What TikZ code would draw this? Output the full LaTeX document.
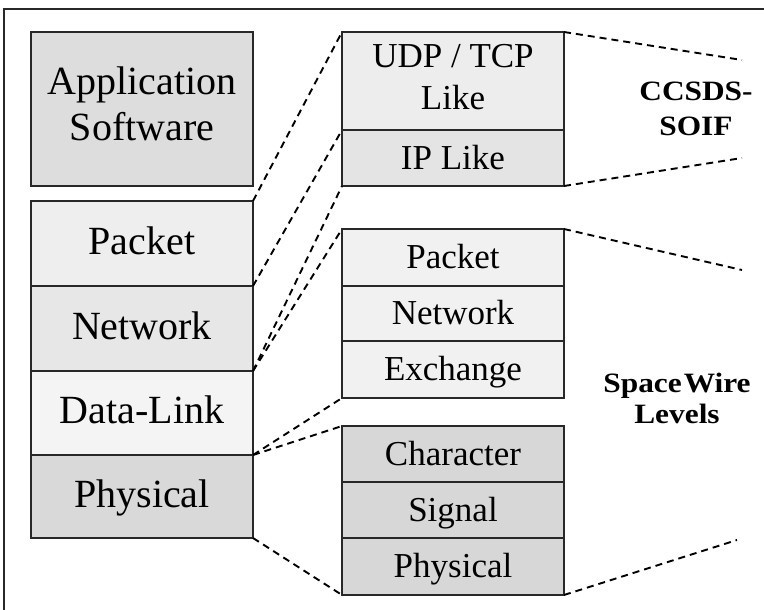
\documentclass[tikz,border=0pt]{standalone}
\usepackage{fontspec}
\setmainfont{Liberation Serif}
\newfontfamily\tagfont{Liberation Serif}[FakeStretch=1.12]
\definecolor{edge}{RGB}{40,40,40}
\definecolor{appfill}{RGB}{221,221,221}
\definecolor{lpackfill}{RGB}{238,238,238}
\definecolor{lnetfill}{RGB}{231,231,231}
\definecolor{ldlfill}{RGB}{244,244,244}
\definecolor{lphyfill}{RGB}{217,217,217}
\definecolor{udpfill}{RGB}{237,237,237}
\definecolor{ipfill}{RGB}{228,228,228}
\definecolor{rlightfill}{RGB}{241,241,241}
\definecolor{rdarkfill}{RGB}{215,215,215}
\tikzset{
  layer/.style={draw=edge, line width=1.8pt, rectangle, inner sep=0pt, outer sep=0pt,
    minimum width=222pt, text=black},
  lefttxt/.style={layer, font=\fontsize{40}{45}\selectfont, text height=21pt, text depth=0pt},
  righttxt/.style={layer, font=\fontsize{35}{42}\selectfont, text height=22pt, text depth=0pt},
  link/.style={draw=black, line width=1.9pt, dash pattern=on 7pt off 5pt},
  tag/.style={align=center, inner sep=0pt}
}
\begin{document}
\begin{tikzpicture}[x=1pt,y=-1pt]
\useasboundingbox (0,0) rectangle (764,610);
\fill[white] (0,0) rectangle (764,610);
\draw[edge, line width=1.4pt] (4,620) -- (4,9) -- (770,9);

% left stack
\node[layer, fill=appfill, minimum height=154pt, align=center,
  font=\fontsize{40}{46}\selectfont, text depth=10pt] (app) at (142,109) {Application\\Software};
\node[lefttxt, fill=lpackfill, minimum height=85pt] (lpacket) at (142,243.5) {Packet};
\node[lefttxt, fill=lnetfill, minimum height=85pt] (lnet) at (142,328.5) {Network};
\node[lefttxt, fill=ldlfill, minimum height=84pt] (ldl) at (142,413) {Data-Link};
\node[lefttxt, fill=lphyfill, minimum height=83pt] (lphy) at (142,496.5) {Physical};

% right stacks
\node[layer, fill=udpfill, minimum height=98pt, align=center,
  font=\fontsize{35}{42}\selectfont, text depth=8pt] (udp) at (453,81) {UDP / TCP\\Like};
\node[righttxt, fill=ipfill, minimum height=56pt] (ip) at (453,158) {IP Like};

\node[righttxt, fill=rlightfill, minimum height=57pt] (rpacket) at (453,257.5) {Packet};
\node[righttxt, fill=rlightfill, minimum height=55pt] (rnet) at (453,313.5) {Network};
\node[righttxt, fill=rlightfill, minimum height=57pt] (rexch) at (453,369.5) {Exchange};

\node[righttxt, fill=rdarkfill, minimum height=56pt] (rchar) at (453,454) {Character};
\node[righttxt, fill=rdarkfill, minimum height=56pt] (rsig) at (453,510) {Signal};
\node[righttxt, fill=rdarkfill, minimum height=57pt] (rphy) at (453,566.5) {Physical};

% labels
\node[tag, font=\fontsize{28}{35}\tagfont\bfseries] (soif) at (696,108.5) {CCSDS-\\SOIF};
\node[tag, font=\fontsize{28}{31}\tagfont\bfseries] (swl) at (677,398.5) {Space\kern2pt Wire\\Levels};

% free ends on the right
\coordinate (e1) at (742,60);
\coordinate (e2) at (742,158);
\coordinate (e3) at (742,270);
\coordinate (e4) at (737,540);

% connectors
\draw[link] (lpacket.north east) -- (udp.north west);
\draw[link] (lpacket.south east) -- (ip.north west);
\draw[link] (lnet.south east) -- (ip.south west);
\draw[link] (lnet.south east) -- (rpacket.north west);
\draw[link] (ldl.south east) -- (rexch.south west);
\draw[link] (ldl.south east) -- (rchar.north west);
\draw[link] (lphy.south east) -- (rphy.south west);

\draw[link] (udp.north east) -- (e1);
\draw[link] (ip.south east) -- (e2);
\draw[link] (rpacket.north east) -- (e3);
\draw[link] (rphy.south east) -- (e4);
\end{tikzpicture}
\end{document}
